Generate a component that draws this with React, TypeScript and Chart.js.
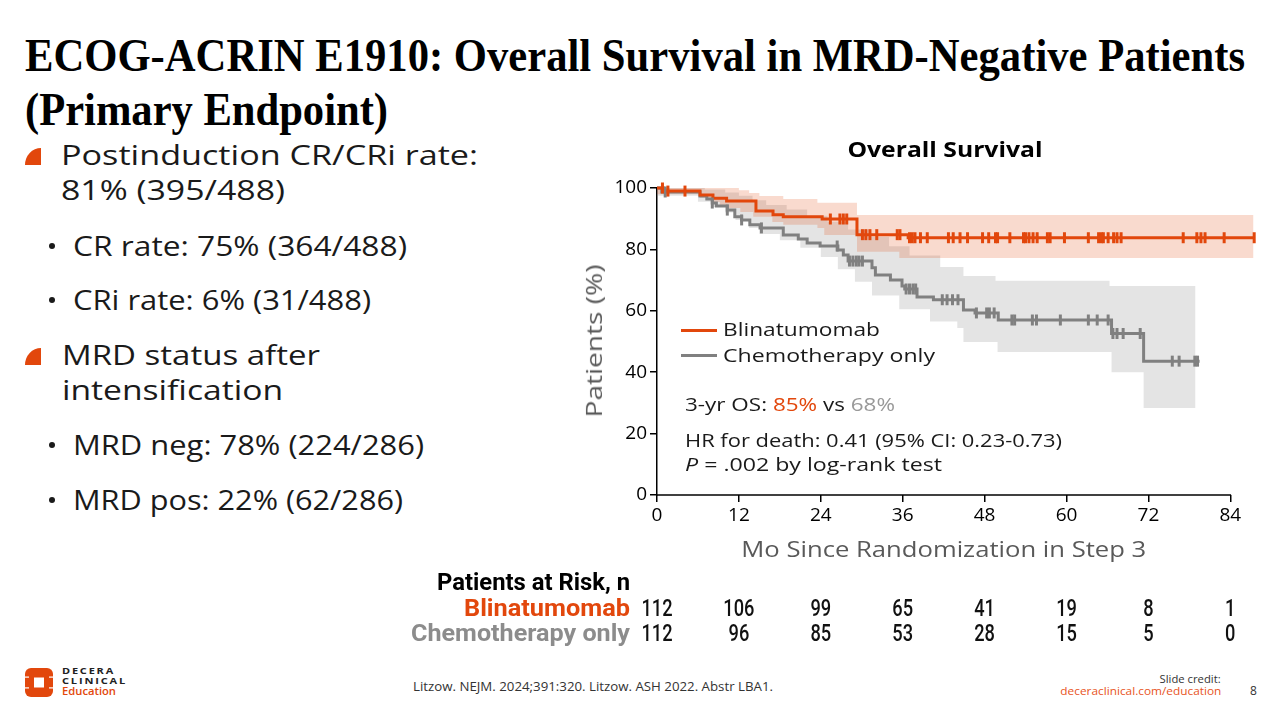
import React, { useEffect, useRef } from 'react';
import { Chart, registerables } from 'chart.js';

Chart.register(...registerables);

const ORANGE = '#E2470C';
const GRAY = '#808080';
const ORANGE_BAND = 'rgba(226,71,12,0.2)';
const GRAY_BAND = 'rgba(140,140,140,0.23)';

// ---- Kaplan-Meier steps (months, % surviving) ----
const blinTime = [0, 0.9, 6.3, 8.2, 10.2, 14.5, 17.0, 18.5, 24.2, 29.3, 36.8, 87.6];
const blinSurv = [100, 99, 97.7, 96.7, 95.8, 92.5, 91.3, 90.6, 89.9, 84.8, 83.8, 83.8];
const blinCensor = [0.8, 1.6, 4.1, 25.4, 26.8, 27.3, 27.8, 30.1, 30.6, 31.2, 32.2, 35.2, 35.6, 37.0, 37.4, 37.8, 38.6, 39.6, 42.7, 43.4, 44.4, 45.5, 47.7, 48.6, 49.6, 49.9, 51.7, 53.7, 54.0, 54.5, 55.1, 55.7, 57.2, 57.6, 59.7, 63.2, 64.7, 65.1, 65.4, 66.1, 66.9, 67.4, 68.0, 77.1, 79.1, 79.7, 80.3, 83.1, 87.5];

const chemoTime = [0, 0.7, 6.3, 7.3, 8.1, 8.7, 10.3, 11.4, 12.4, 13.6, 15.1, 18.5, 20.7, 22.0, 23.9, 26.5, 27.3, 28.0, 31.5, 32.0, 34.2, 35.9, 36.3, 38.1, 40.5, 44.9, 46.6, 50.0, 66.6, 71.3, 79.5];
const chemoSurv = [100, 98.7, 97.4, 96.4, 95.1, 94.1, 92.8, 90.6, 89.6, 88.0, 87.0, 84.7, 83.4, 82.1, 81.1, 79.8, 78.2, 76.2, 74.0, 71.7, 70.0, 68.1, 67.1, 64.5, 63.6, 60.3, 59.3, 57.0, 52.6, 43.6, 43.6];
const chemoCensor = [1.2, 8.1, 10.3, 12.4, 15.3, 26.4, 28.2, 28.7, 29.2, 29.6, 30.1, 36.5, 37.0, 37.5, 37.9, 41.8, 42.5, 43.3, 44.1, 46.8, 48.3, 48.7, 49.4, 52.0, 52.4, 55.0, 55.6, 59.1, 63.2, 64.5, 66.1, 66.8, 67.4, 68.3, 70.8, 75.5, 76.5, 78.8, 79.2];

// ---- 95% confidence bands ----
const blinUpTime = [0, 12.0, 13.5, 15.0, 18.5, 23.5, 29.3, 87.4];
const blinUp = [100, 99.3, 98.4, 97.4, 96.4, 95.2, 91.2, 91.2];
const blinLoTime = [0, 6.3, 8.2, 9.2, 10.3, 12.2, 14.1, 16.9, 18.5, 23.5, 24.5, 29.3, 35.5, 87.4];
const blinLo = [98.0, 96.8, 95.4, 94.5, 93.5, 92.2, 90.6, 88.9, 88.0, 87.0, 84.7, 79.2, 77.2, 77.2];

const chemoUpTime = [0, 7, 10, 12, 14, 16, 19, 22, 25, 28, 31, 34, 37, 41.5, 44.9, 49.6, 66.3, 78.9];
const chemoUp = [100, 99.5, 98.5, 97.5, 96, 94.5, 93, 91, 89, 86.5, 84, 81, 78, 74.3, 71.3, 69.8, 68.1, 68.1];
const chemoLoTime = [0, 6, 8, 10, 11.5, 13.5, 15, 18, 21, 24, 26.5, 29, 31.5, 35.5, 40, 44, 44.9, 49.9, 66.6, 71.3, 78.9];
const chemoLo = [97.5, 95.5, 93.8, 92, 89.6, 87, 85, 83, 80.5, 77.5, 73.5, 69.5, 65, 60.5, 56.5, 54.4, 49.8, 46.6, 40, 28.3, 28.3];

// ---- axis ticks & at-risk table ----
const xTicks = [0, 12, 24, 36, 48, 60, 72, 84];
const yTicks = [0, 20, 40, 60, 80, 100];
const blinRisk = [112, 106, 99, 65, 41, 19, 8, 1];
const chemoRisk = [112, 96, 85, 53, 28, 15, 5, 0];

const pts = (xs: number[], ys: number[]) => xs.map((x, i) => ({ x, y: ys[i] }));
const survAt = (xs: number[], ys: number[], t: number) => {
  let v = ys[0];
  for (let i = 0; i < xs.length; i++) if (xs[i] <= t) v = ys[i];
  return v;
};

// ---- text helpers ----
const mctx = document.createElement('canvas').getContext('2d') as CanvasRenderingContext2D;
const tw = (text: string, font: string) => {
  mctx.font = font;
  return mctx.measureText(text).width;
};
const K: Record<string, number> = { 'Open Sans': 0.888, 'Liberation Serif': 0.8375, Roboto: 0.842 };

type Part = { t: string; c?: string; i?: boolean };
type TxtProps = {
  x: number; y: number; size: number; fam?: string; weight?: number; color?: string;
  w?: number; align?: 'left' | 'right' | 'center'; text?: string; parts?: Part[]; ls?: number;
};
function Txt(p: TxtProps) {
  const fam = p.fam ?? 'Open Sans';
  const weight = p.weight ?? 400;
  const ls = p.ls ?? 0;
  const parts = p.parts ?? [{ t: p.text ?? '' }];
  const nat = parts.reduce(
    (s, q) => s + tw(q.t, `${q.i ? 'italic ' : ''}${weight} ${p.size}px "${fam}"`) + ls * q.t.length,
    0
  );
  const sx = p.w ? p.w / nat : 1;
  const align = p.align ?? 'left';
  const left = align === 'left' ? p.x : align === 'right' ? p.x - nat : p.x - nat / 2;
  const ox = align === 'left' ? 0 : align === 'right' ? nat : nat / 2;
  return (
    <div
      style={{
        position: 'absolute', left, top: p.y - K[fam] * p.size, width: nat + 1, height: p.size,
        lineHeight: 1, fontSize: p.size, fontFamily: `"${fam}"`, fontWeight: weight,
        color: p.color ?? '#1a1a1a', whiteSpace: 'pre', letterSpacing: ls,
        transform: `scaleX(${sx})`, transformOrigin: `${ox}px 0px`,
      }}
    >
      {parts.map((q, i) => (
        <span key={i} style={{ color: q.c, fontStyle: q.i ? 'italic' : 'normal' }}>{q.t}</span>
      ))}
    </div>
  );
}

function VTxt({ cx, cy, size, w, text, color }: { cx: number; cy: number; size: number; w: number; text: string; color: string }) {
  const nat = tw(text, `400 ${size}px "Open Sans"`);
  return (
    <div
      style={{
        position: 'absolute', left: cx - nat / 2, top: cy - size / 2, width: nat, height: size,
        lineHeight: 1, fontSize: size, fontFamily: '"Open Sans"', color, whiteSpace: 'pre',
        transform: `rotate(-90deg) scaleX(${w / nat})`, transformOrigin: 'center center',
      }}
    >
      {text}
    </div>
  );
}

const Quarter = ({ top }: { top: number }) => (
  <div style={{ position: 'absolute', left: 25, top, width: 16, height: 17, background: ORANGE, borderTopLeftRadius: '100% 100%' }} />
);
const Dot = ({ y }: { y: number }) => (
  <div style={{ position: 'absolute', left: 49, top: y - 3, width: 6, height: 6, borderRadius: 3, background: '#1a1a1a' }} />
);

const CANVAS_LEFT = 400;
const CANVAS_TOP = 130;

export default function App() {
  const ref = useRef<HTMLCanvasElement>(null);

  useEffect(() => {
    const drawScaled = (ctx: CanvasRenderingContext2D, text: string, x: number, y: number, sx: number, align: CanvasTextAlign) => {
      ctx.save();
      ctx.translate(x, y);
      ctx.scale(sx, 1);
      ctx.textAlign = align;
      ctx.textBaseline = 'alphabetic';
      ctx.fillText(text, 0, 0);
      ctx.restore();
    };
    const drawFit = (ctx: CanvasRenderingContext2D, text: string, x: number, y: number, w: number, align: CanvasTextAlign) => {
      const nat = ctx.measureText(text).width;
      drawScaled(ctx, text, x, y, w / nat, align);
    };

    const extras = {
      id: 'extras',
      beforeDatasetsDraw(chart: any) {
        const { ctx, scales, chartArea } = chart;
        const x = scales.x;
        ctx.save();
        ctx.strokeStyle = '#000';
        ctx.lineWidth = 1.5;
        ctx.beginPath();
        ctx.moveTo(x.getPixelForValue(0) - 0.75, chartArea.bottom);
        ctx.lineTo(x.getPixelForValue(xTicks[xTicks.length - 1]) + 0.75, chartArea.bottom);
        ctx.stroke();
        ctx.restore();
      },
      afterDraw(chart: any) {
        const { ctx, scales } = chart;
        const x = scales.x;
        const rightEdge = 630 - CANVAS_LEFT;
        const r1 = 616 - CANVAS_TOP;
        const r2 = 641 - CANVAS_TOP;
        ctx.save();
        ctx.font = 'bold 23px Roboto';
        ctx.fillStyle = '#000';
        drawFit(ctx, 'Patients at Risk, n', rightEdge, 590 - CANVAS_TOP, 193, 'right');
        ctx.fillStyle = ORANGE;
        drawFit(ctx, 'Blinatumomab', rightEdge, r1, 166, 'right');
        ctx.fillStyle = '#8c8c8c';
        drawFit(ctx, 'Chemotherapy only', rightEdge, r2, 219, 'right');
        ctx.font = '500 24px Roboto';
        ctx.fillStyle = '#111';
        xTicks.forEach((t, i) => {
          const px = x.getPixelForValue(t);
          drawScaled(ctx, String(blinRisk[i]), px, r1, 0.76, 'center');
          drawScaled(ctx, String(chemoRisk[i]), px, r2, 0.76, 'center');
        });
        ctx.restore();
      },
    };

    const band = (data: any, color: string, fill: any, order: number, clip: any) => ({
      data, stepped: 'before', borderColor: 'transparent', borderWidth: 0, pointRadius: 0,
      backgroundColor: color, fill, order, clip,
    });

    const censor = (times: number[], xs: number[], ys: number[], color: string, order: number) => ({
      data: times.map((t) => ({ x: t, y: survAt(xs, ys, t) })),
      showLine: false, pointStyle: 'line', pointRotation: 90, pointRadius: 5.5,
      pointBorderWidth: 3, pointBorderColor: color, pointBackgroundColor: color,
      borderColor: color, order, clip: false,
    });

    const chart = new Chart(ref.current as HTMLCanvasElement, {
      type: 'line',
      data: {
        datasets: [
          censor(blinCensor, blinTime, blinSurv, ORANGE, 0),
          censor(chemoCensor, chemoTime, chemoSurv, GRAY, 1),
          { data: pts(blinTime, blinSurv), stepped: 'before', borderColor: ORANGE, borderWidth: 3, pointRadius: 0, fill: false, order: 2, clip: false },
          { data: pts(chemoTime, chemoSurv), stepped: 'before', borderColor: GRAY, borderWidth: 3, pointRadius: 0, fill: false, order: 3, clip: false },
          band(pts(blinUpTime, blinUp), ORANGE_BAND, '+1', 4, false),
          band(pts(blinLoTime, blinLo), ORANGE_BAND, false, 5, false),
          band(pts(chemoUpTime, chemoUp), GRAY_BAND, '+1', 6, false),
          band(pts(chemoLoTime, chemoLo), GRAY_BAND, false, 7, false),
        ] as any,
      },
      options: {
        responsive: false,
        animation: false,
        devicePixelRatio: 1,
        events: [],
        layout: { padding: { left: 175, right: 22.4, top: 58, bottom: 115 } },
        plugins: { legend: { display: false }, tooltip: { enabled: false }, title: { display: false } },
        scales: {
          x: {
            type: 'linear', min: 0, max: 88,
            afterBuildTicks: (s: any) => { s.ticks = xTicks.map((v) => ({ value: v })); },
            afterFit: (s: any) => { s.height = 40; },
            ticks: { stepSize: 12, color: '#000', font: { family: '"Open Sans"', size: 19 }, padding: 2, maxRotation: 0, autoSkip: false },
            grid: { drawOnChartArea: false, drawTicks: true, color: '#000', lineWidth: 1.5, tickLength: 7 },
            border: { display: false },
          },
          y: {
            type: 'linear', min: 0, max: 100,
            afterBuildTicks: (s: any) => { s.ticks = yTicks.map((v) => ({ value: v })); },
            afterFit: (s: any) => { s.width = 82; },
            ticks: { stepSize: 20, color: '#000', font: { family: '"Open Sans"', size: 19 }, padding: 3 },
            grid: { drawOnChartArea: false, drawTicks: true, color: '#000', lineWidth: 1.5, tickLength: 7 },
            border: { display: true, color: '#000', width: 1.5 },
          },
        },
      } as any,
      plugins: [extras as any],
    });
    return () => chart.destroy();
  }, []);

  return (
    <div style={{ position: 'fixed', left: 0, top: 0, width: 1280, height: 720, background: '#fff', overflow: 'hidden' }}>
      <Txt x={25} y={72} size={46} fam="Liberation Serif" weight={700} color="#000" w={1220}
        text="ECOG-ACRIN E1910: Overall Survival in MRD-Negative Patients" />
      <Txt x={25} y={126} size={46} fam="Liberation Serif" weight={700} color="#000" w={363}
        text="(Primary Endpoint)" />

      <Quarter top={148} />
      <Txt x={61} y={165} size={28} w={417} text="Postinduction CR/CRi rate:" />
      <Txt x={61} y={200} size={28} w={224} text="81% (395/488)" />
      <Dot y={246} />
      <Txt x={73} y={256} size={27} w={334} text="CR rate: 75% (364/488)" />
      <Dot y={300} />
      <Txt x={73} y={310} size={27} w={298} text="CRi rate: 6% (31/488)" />
      <Quarter top={348} />
      <Txt x={62} y={365} size={28} w={258} text="MRD status after" />
      <Txt x={62} y={400} size={28} w={221} text="intensification" />
      <Dot y={445} />
      <Txt x={73} y={455} size={27} w={351} text="MRD neg: 78% (224/286)" />
      <Dot y={500} />
      <Txt x={73} y={510} size={27} w={330} text="MRD pos: 22% (62/286)" />

      <canvas ref={ref} width={880} height={520}
        style={{ position: 'absolute', left: CANVAS_LEFT, top: CANVAS_TOP, width: 880, height: 520 }} />

      <Txt x={944.5} y={158} size={21} weight={700} color="#000" w={195} align="center" text="Overall Survival" />
      <VTxt cx={593} cy={341} size={22} w={153} text="Patients (%)" color="#595959" />
      <Txt x={944} y={557} size={22} w={405} align="center" color="#595959" text="Mo Since Randomization in Step 3" />

      <div style={{ position: 'absolute', left: 681, top: 328.5, width: 36, height: 3, background: ORANGE }} />
      <div style={{ position: 'absolute', left: 681, top: 353.5, width: 36, height: 3, background: GRAY }} />
      <Txt x={723} y={337} size={19} w={157} text="Blinatumomab" />
      <Txt x={723} y={363} size={19} w={212} text="Chemotherapy only" />
      <Txt x={685} y={411} size={18.5} w={210}
        parts={[{ t: '3-yr OS: ' }, { t: '85%', c: ORANGE }, { t: ' vs ' }, { t: '68%', c: '#999' }]} />
      <Txt x={685} y={447} size={18.5} w={377} text="HR for death: 0.41 (95% CI: 0.23-0.73)" />
      <Txt x={685} y={471} size={18.5} w={257} parts={[{ t: 'P', i: true }, { t: ' = .002 by log-rank test' }]} />

      <svg style={{ position: 'absolute', left: 25, top: 668 }} width={28} height={29} viewBox="0 0 28 29">
        <rect x={0} y={0} width={28} height={29} rx={6} fill={ORANGE} />
        <rect x={9} y={9.5} width={10} height={10} fill="#fff" />
        <rect x={0} y={8.5} width={4} height={1.2} fill="#fff" />
        <rect x={24} y={8.5} width={4} height={1.2} fill="#fff" />
        <rect x={0} y={19.3} width={4} height={1.2} fill="#fff" />
        <rect x={24} y={19.3} width={4} height={1.2} fill="#fff" />
      </svg>
      <Txt x={62} y={674} size={9} weight={700} color="#222" w={53} ls={1.5} text="DECERA" />
      <Txt x={62} y={684} size={9} weight={700} color="#222" w={65} ls={1.5} text="CLINICAL" />
      <Txt x={62} y={694.5} size={11} weight={600} color={ORANGE} w={54} text="Education" />

      <Txt x={413} y={692} size={12} color="#333" w={360} text="Litzow. NEJM. 2024;391:320. Litzow. ASH 2022. Abstr LBA1." />
      <Txt x={1221} y={683} size={11} color="#333" w={61} align="right" text="Slide credit:" />
      <Txt x={1221} y={695.5} size={11.5} color="#E8541D" w={161} align="right" text="deceraclinical.com/education" />
      <Txt x={1250} y={695.5} size={12} color="#333" text="8" />
    </div>
  );
}
